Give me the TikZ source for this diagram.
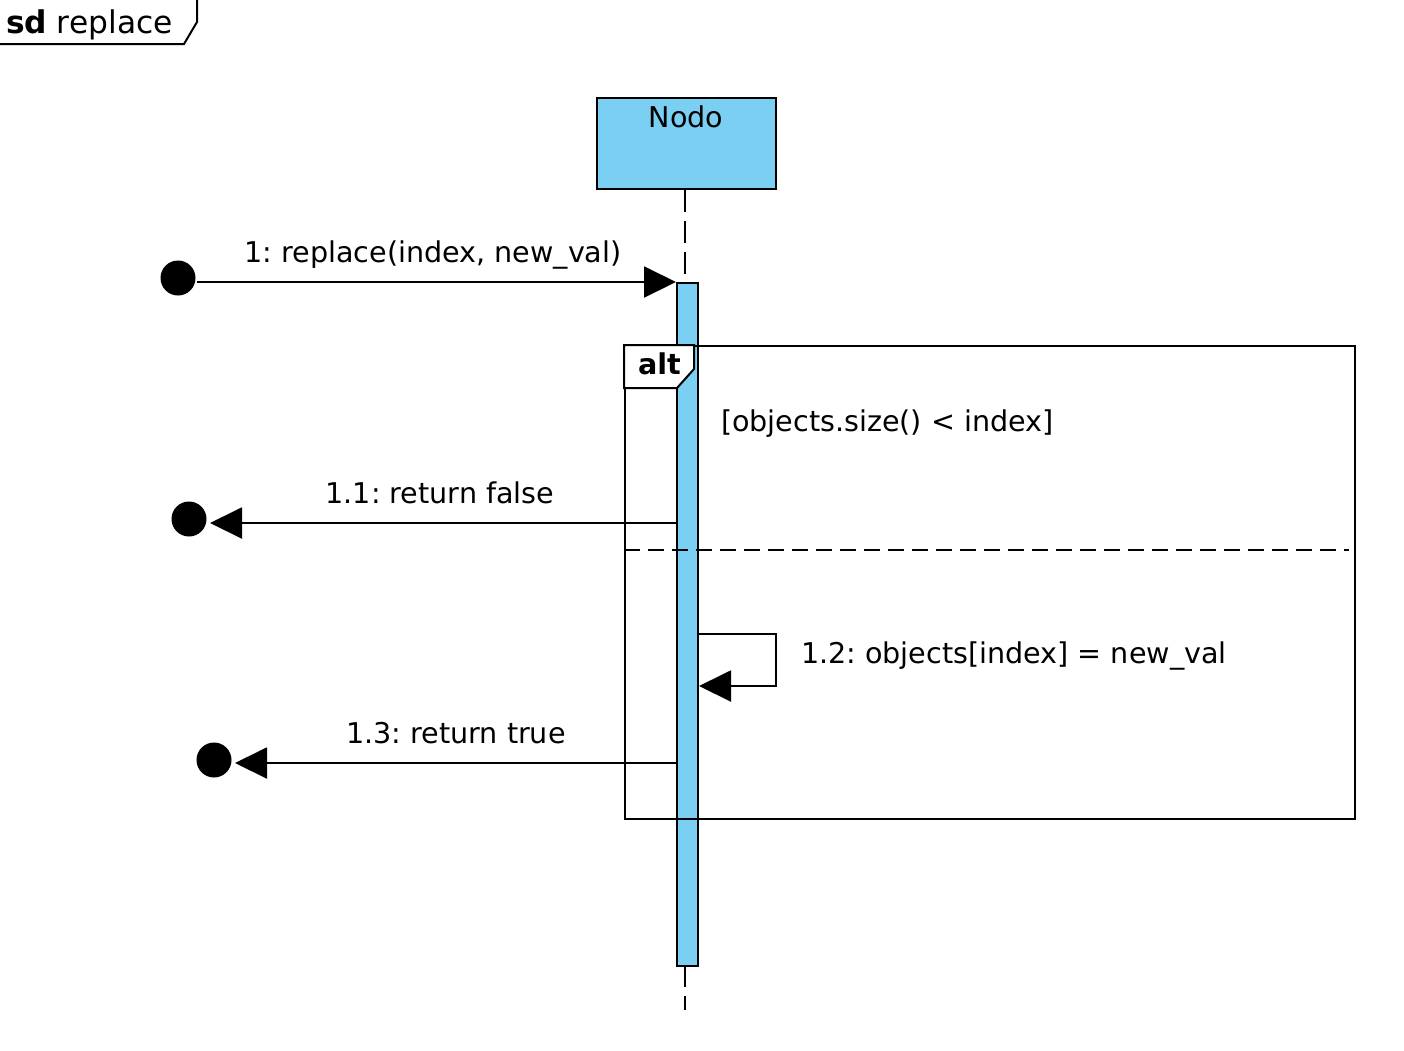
\documentclass[tikz,border=0pt]{standalone}
\usepackage{fontspec}
\setmainfont{DejaVu Sans}
\usetikzlibrary{arrows.meta}
\definecolor{lifeblue}{RGB}{122,207,243}
\frenchspacing
\begin{document}
\begin{tikzpicture}[x=1pt,y=-1pt,line width=2pt,
  lbl/.style={font=\fontsize{28.6}{34}\selectfont,inner sep=0pt,anchor=base},
  endpt/.style={circle,fill=black,minimum size=35pt,inner sep=0pt},
  msg/.style={-{Triangle[length=32pt,width=31pt]}},
  lifeline/.style={dash pattern=on 22pt off 9pt},
  sep/.style={dash pattern=on 16pt off 8pt},
  barbox/.style={draw,fill=lifeblue,inner sep=0pt,anchor=north west}]
\useasboundingbox (0,0) rectangle (1404,1050);

% diagram frame tab
\draw (0,44) -- (184,44) -- (197,22) -- (197,0);
\node[font=\fontsize{31.3}{37}\selectfont,inner sep=0pt,anchor=base west] (title) at (5,33) {\textbf{sd} replace};

% participant
\node[barbox,minimum width=179pt,minimum height=91pt] (nodo) at (596,97) {};
\node[lbl] (nodoname) at (686,127) {Nodo};

% lifeline and activation
\coordinate (lifeend) at (685,1010);
\draw[lifeline] (nodo.south -| lifeend) -- (lifeend);
\node[barbox,minimum width=21pt,minimum height=683pt] (act) at (676,282) {};

% alt combined fragment
\node[draw,anchor=north west,minimum width=730pt,minimum height=473pt,inner sep=0pt] (alt) at (624,345) {};
\draw[fill=white] (alt.north west) -- ++(70,0) -- ++(0,24) -- ++(-17,19) -- ++(-53,0) -- cycle;
\node[font=\fontsize{28.6}{34}\selectfont\bfseries,inner sep=0pt,anchor=base west] (altname) at (637,374) {alt};
\node[lbl,anchor=base west] (guard) at (720,431) {[objects.size() < index]};
\coordinate (sepend) at (1349,550);
\draw[sep] (alt.west |- sepend) -- (sepend);

% 1: found message
\node[endpt] (s0) at (178,278) {};
\draw[msg] ([yshift=-4pt]s0.east) -- (act.north west);
\node[lbl] (l1) at (433,262) {1: replace(index, new\_val)};

% 1.1: return false
\node[endpt] (e1) at (189,519) {};
\coordinate (t1) at (210,523);
\draw[msg] (act.west |- t1) -- (t1);
\node[lbl] (l11) at (440,503) {1.1: return false};

% 1.2: self message
\coordinate (c12a) at (776,634);
\coordinate (c12b) at (776,686);
\draw[msg] (act.east |- c12a) -- (c12a) -- (c12b) -- (act.east |- c12b);
\node[lbl,anchor=base west] (l12) at (800,663) {1.2: objects[index] = new\_val};

% 1.3: return true
\node[endpt] (e3) at (214,760) {};
\coordinate (t3) at (235,763);
\draw[msg] (act.west |- t3) -- (t3);
\node[lbl] (l13) at (456,743) {1.3: return true};
\end{tikzpicture}
\end{document}
